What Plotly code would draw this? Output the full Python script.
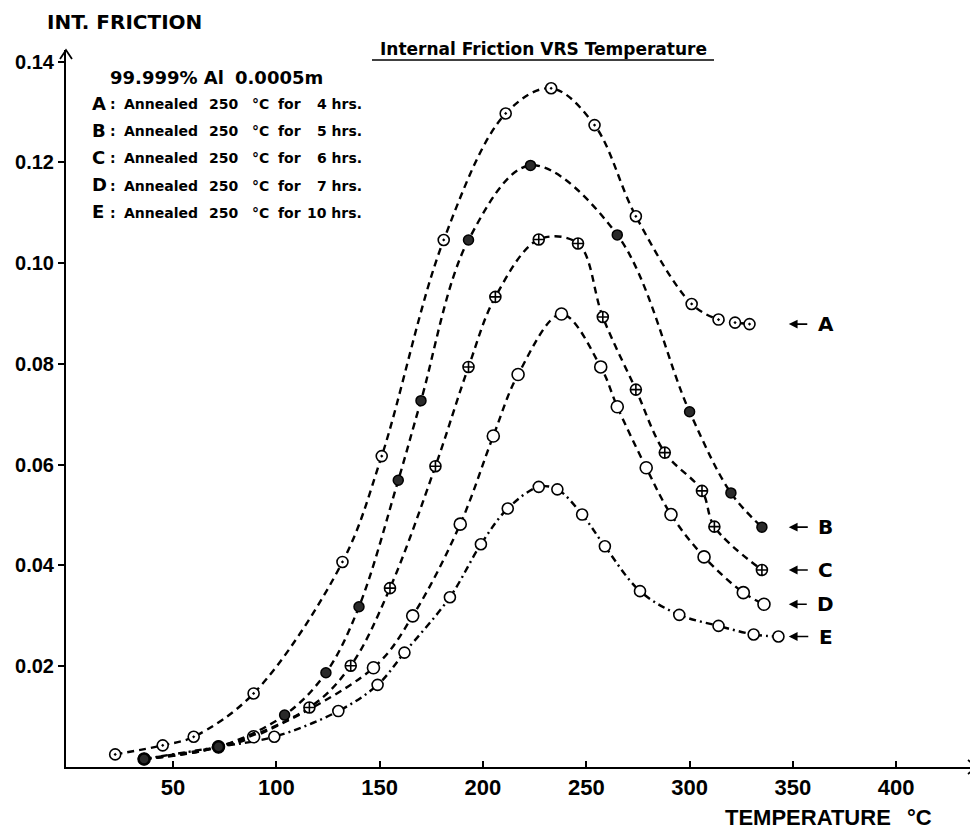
import plotly.graph_objects as go

# ---------------- data ----------------
temp_A = [22, 45, 60, 89, 132, 151, 181, 211, 233, 254, 274, 301, 314, 322, 329]
if_A = [0.0025, 0.0043, 0.0060, 0.0146, 0.0407, 0.0617, 0.1046, 0.1297, 0.1347,
        0.1274, 0.1093, 0.0919, 0.0888, 0.0882, 0.0879]

temp_B = [36, 72, 104, 124, 140, 159, 170, 193, 223, 265, 300, 320, 335]
if_B = [0.0016, 0.0040, 0.0103, 0.0187, 0.0318, 0.0569, 0.0727, 0.1046, 0.1194,
        0.1056, 0.0705, 0.0544, 0.0476]

temp_C = [36, 72, 116, 136, 155, 177, 193, 206, 227, 246, 258, 274, 288, 306, 312, 335]
if_C = [0.0016, 0.0040, 0.0118, 0.0201, 0.0355, 0.0597, 0.0794, 0.0933, 0.1047,
        0.1039, 0.0893, 0.0749, 0.0624, 0.0548, 0.0477, 0.0391]

temp_D = [36, 72, 89, 147, 166, 189, 205, 217, 238, 257, 265, 279, 291, 307, 326, 336]
if_D = [0.0016, 0.0040, 0.0060, 0.0197, 0.0300, 0.0482, 0.0657, 0.0779, 0.0899,
        0.0794, 0.0715, 0.0594, 0.0501, 0.0417, 0.0346, 0.0323]

temp_E = [36, 72, 99, 130, 149, 162, 184, 199, 212, 227, 236, 248, 259, 276, 295, 314, 331, 343]
if_E = [0.0016, 0.0040, 0.0060, 0.0111, 0.0163, 0.0227, 0.0337, 0.0442, 0.0513,
        0.0556, 0.0551, 0.0501, 0.0438, 0.0349, 0.0302, 0.0280, 0.0263, 0.0259]

x_ticks = [50, 100, 150, 200, 250, 300, 350, 400]
x_tick_labels = ["50", "100", "150", "200", "250", "300", "350", "400"]
y_ticks = [0.02, 0.04, 0.06, 0.08, 0.10, 0.12, 0.14]
y_tick_labels = ["0.02", "0.04", "0.06", "0.08", "0.10", "0.12", "0.14"]

series_names = ["A", "B", "C", "D", "E"]
anneal_hours = ["4", "5", "6", "7", "10"]

title_text = "Internal Friction VRS Temperature"
y_title = "INT. FRICTION"
x_title = "TEMPERATURE"
x_unit = "°C"
sample_text = "99.999% Al"
size_text = "0.0005m"

# ---------------- layout geometry ----------------
# The page places the figure 8px from the top-left corner (default body margin),
# so the figure is 8px smaller and its margins are shifted accordingly.
OFF = 8
W, H = 978 - OFF, 831 - OFF
PL, PR, PT, PB = 66, 977, 50, 767          # plot-area edges in window pixels
ML, MR, MT, MB = PL - OFF, 978 - PR, PT - OFF, 831 - PB
PW = PR - PL
PH = PB - PT


def pxx(xp):
    return (xp - PL) / PW


def pxy(yp):
    return (PB - yp) / PH


BOLD_SANS = "DejaVu Sans"
ARIAL = "Liberation Sans"

fig = go.Figure()

data = {
    "A": (temp_A, if_A), "B": (temp_B, if_B), "C": (temp_C, if_C),
    "D": (temp_D, if_D), "E": (temp_E, if_E),
}
styles = {
    "E": ("7px,4px,2px,4px", dict(symbol="circle", size=11, color="white",
                                  line=dict(color="black", width=1.6))),
    "D": ("7px,5px", dict(symbol="circle", size=12, color="white",
                          line=dict(color="black", width=1.6))),
    "C": ("7px,5px", dict(symbol="circle-cross", size=11, color="white",
                          line=dict(color="black", width=1.6))),
    "B": ("7px,5px", dict(symbol="circle", size=10, color="#2a2a2a",
                          line=dict(color="black", width=1.5))),
    "A": ("7px,5px", dict(symbol="circle-dot", size=11, color="white",
                          line=dict(color="black", width=1.6))),
}

for name in ["E", "D", "C", "B", "A"]:
    xs, ys = data[name]
    dash, marker = styles[name]
    fig.add_trace(go.Scatter(
        x=xs, y=ys, mode="lines+markers", name=name, showlegend=False,
        line=dict(color="black", width=2.4, dash=dash, shape="spline", smoothing=1.0),
        marker=marker,
    ))

annotations = []

# curve end labels with arrows
for name in series_names:
    xs, ys = data[name]
    annotations.append(dict(
        x=348, y=ys[-1], xref="x", yref="y", text=name,
        showarrow=True, ax=37, ay=0, arrowhead=2, arrowsize=1.1, arrowwidth=1.6,
        arrowcolor="black", startstandoff=9,
        font=dict(family=BOLD_SANS, size=20, color="black", weight="bold"),
    ))

# title
annotations.append(dict(x=pxx(543), y=pxy(49), xref="paper", yref="paper", text=title_text,
                        showarrow=False, xanchor="center", yanchor="middle",
                        font=dict(family=BOLD_SANS, size=17, color="black", weight="bold")))
# axis titles
annotations.append(dict(x=pxx(45), y=pxy(22), xref="paper", yref="paper", text=y_title,
                        showarrow=False, xanchor="left", yanchor="middle",
                        font=dict(family=BOLD_SANS, size=20, color="black", weight="bold")))
annotations.append(dict(x=pxx(723), y=pxy(817), xref="paper", yref="paper", text=x_title,
                        showarrow=False, xanchor="left", yanchor="middle",
                        font=dict(family=ARIAL, size=22, color="black", weight="bold")))
annotations.append(dict(x=pxx(934), y=pxy(817), xref="paper", yref="paper", text=x_unit,
                        showarrow=False, xanchor="right", yanchor="middle",
                        font=dict(family=ARIAL, size=22, color="black", weight="bold")))
# legend header
annotations.append(dict(x=pxx(108), y=pxy(77), xref="paper", yref="paper", text=sample_text,
                        showarrow=False, xanchor="left", yanchor="middle",
                        font=dict(family=BOLD_SANS, size=18, color="black", weight="bold")))
annotations.append(dict(x=pxx(233), y=pxy(77), xref="paper", yref="paper", text=size_text,
                        showarrow=False, xanchor="left", yanchor="middle",
                        font=dict(family=BOLD_SANS, size=18, color="black", weight="bold")))

small = dict(family=BOLD_SANS, size=14, color="black", weight="bold")
for i, (name, hrs) in enumerate(zip(series_names, anneal_hours)):
    yc = 103 + 27.2 * i
    annotations.append(dict(x=pxx(90), y=pxy(yc), xref="paper", yref="paper",
                            text=name,
                            showarrow=False, xanchor="left", yanchor="middle",
                            font=dict(family=BOLD_SANS, size=18, color="black", weight="bold")))
    annotations.append(dict(x=pxx(108), y=pxy(yc + 1), xref="paper", yref="paper", text=":",
                            showarrow=False, xanchor="left", yanchor="middle", font=small))
    annotations.append(dict(x=pxx(122), y=pxy(yc + 1), xref="paper", yref="paper", text="Annealed",
                            showarrow=False, xanchor="left", yanchor="middle", font=small))
    annotations.append(dict(x=pxx(207), y=pxy(yc + 1), xref="paper", yref="paper", text="250",
                            showarrow=False, xanchor="left", yanchor="middle", font=small))
    annotations.append(dict(x=pxx(250), y=pxy(yc + 1), xref="paper", yref="paper",
                            text="°C",
                            showarrow=False, xanchor="left", yanchor="middle", font=small))
    annotations.append(dict(x=pxx(276), y=pxy(yc + 1), xref="paper", yref="paper", text="for",
                            showarrow=False, xanchor="left", yanchor="middle", font=small))
    annotations.append(dict(x=pxx(364), y=pxy(yc + 1), xref="paper", yref="paper",
                            text=hrs + " hrs.",
                            showarrow=False, xanchor="right", yanchor="middle", font=small))

shapes = [
    # title underline
    dict(type="line", xref="paper", yref="paper", x0=pxx(372), x1=pxx(714),
         y0=pxy(60), y1=pxy(60), line=dict(color="black", width=1.6)),
    # x-axis arrow head
    dict(type="path", xref="x domain", yref="y domain", xsizemode="pixel", ysizemode="pixel",
         xanchor=1, yanchor=0, path="M -9,7 L 0,0 L -9,-7",
         line=dict(color="black", width=1.8)),
    # y-axis arrow head
    dict(type="path", xref="x domain", yref="y domain", xsizemode="pixel", ysizemode="pixel",
         xanchor=0, yanchor=1, path="M -6,-9 L 0,0 L 6,-9",
         line=dict(color="black", width=1.8)),
]

fig.update_layout(
    width=W, height=H,
    margin=dict(l=ML, r=MR, t=MT, b=MB, pad=0),
    paper_bgcolor="white", plot_bgcolor="white",
    showlegend=False,
    annotations=annotations,
    shapes=shapes,
    xaxis=dict(range=[-1.8, 439.1], showgrid=False, zeroline=False,
               showline=True, linecolor="black", linewidth=2,
               ticks="inside", ticklen=6, tickwidth=2, tickcolor="black",
               tickvals=x_ticks, ticktext=x_tick_labels,
               tickfont=dict(family=ARIAL, size=22, color="black", weight="bold")),
    yaxis=dict(range=[0, 0.1423], showgrid=False, zeroline=False,
               showline=True, linecolor="black", linewidth=2,
               ticks="outside", ticklen=6, tickwidth=2, tickcolor="black",
               tickvals=y_ticks, ticktext=y_tick_labels,
               tickfont=dict(family=ARIAL, size=20, color="black", weight="bold")),
)

fig.write_html("out.html")
